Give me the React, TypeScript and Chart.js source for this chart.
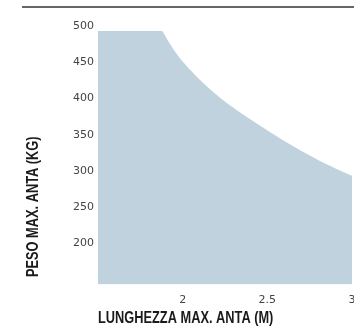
import { useEffect, useRef } from 'react';
import { Chart, registerables } from 'chart.js';

Chart.register(...registerables);

// Door leaf length (m) vs max leaf weight (kg); the corner point is repeated so the curve leaves it sharply
const lengths = [1.5, 1.88, 1.88, 1.92, 1.96, 2.0, 2.05, 2.1, 2.2, 2.3, 2.4, 2.6, 2.8, 3.0];
const weights = [500, 500, 500, 484, 470, 458, 445, 433, 412, 394, 378, 348, 322, 300];
const xTickLabels = ['2', '2.5', '3'];
const yTickLabels = ['200', '250', '300', '350', '400', '450', '500'];
const xTitle = 'LUNGHEZZA MAX. ANTA (M)';
const yTitle = 'PESO MAX. ANTA (KG)';

const fillColor = '#c0d2de';
const titleFont = 'bold 16px "Liberation Sans", Arial, sans-serif';
const condense = 0.8;

const titlesPlugin = {
  id: 'titlesPlugin',
  afterDraw(chart: any) {
    const { ctx, chartArea } = chart;
    ctx.save();
    ctx.font = titleFont;
    ctx.fillStyle = '#1a1a1a';
    ctx.textAlign = 'left';
    ctx.textBaseline = 'middle';
    ctx.save();
    ctx.translate(chartArea.left, chartArea.bottom + 34.5);
    ctx.scale(condense, 1);
    ctx.fillText(xTitle, 0, 0);
    ctx.restore();
    ctx.save();
    ctx.translate(33.5, chartArea.bottom - 7.5);
    ctx.rotate(-Math.PI / 2);
    ctx.scale(condense, 1);
    ctx.fillText(yTitle, 0, 0);
    ctx.restore();
    ctx.restore();
  },
};

export default function App() {
  const ref = useRef<HTMLCanvasElement | null>(null);

  useEffect(() => {
    if (!ref.current) return;
    const tickFont = { family: '"DejaVu Sans", sans-serif', size: 11 };
    const chart = new Chart(ref.current, {
      type: 'line',
      data: {
        datasets: [
          {
            data: lengths.map((x, i) => ({ x, y: weights[i] })),
            fill: 'start',
            backgroundColor: fillColor,
            borderWidth: 0,
            borderColor: 'rgba(0,0,0,0)',
            pointRadius: 0,
            tension: 0.4,
          },
        ],
      },
      options: {
        responsive: false,
        animation: false,
        devicePixelRatio: 1,
        layout: { padding: { top: 31, right: 18, left: 0, bottom: 0 } },
        plugins: { legend: { display: false }, tooltip: { enabled: false } },
        scales: {
          x: {
            type: 'linear',
            min: 1.5,
            max: 3,
            grid: { display: false, drawTicks: false },
            border: { display: false },
            ticks: {
              stepSize: 0.5,
              padding: 9,
              font: tickFont,
              color: '#444',
              maxRotation: 0,
              autoSkip: false,
              callback: (v: any) => (xTickLabels.includes(String(v)) ? String(v) : ''),
            },
            afterFit: (s: any) => {
              s.height = 42.5;
            },
          },
          y: {
            min: 150,
            max: 500,
            grid: { display: false, drawTicks: false },
            border: { display: false },
            ticks: {
              stepSize: 50,
              padding: 4,
              labelOffset: -5,
              font: tickFont,
              color: '#444',
              autoSkip: false,
              callback: (v: any) => (yTickLabels.includes(String(v)) ? String(v) : ''),
            },
            afterFit: (s: any) => {
              s.width = 98;
            },
          },
        },
      },
      plugins: [titlesPlugin],
    } as any);
    return () => chart.destroy();
  }, []);

  return (
    <div style={{ position: 'fixed', top: 0, left: 0, width: 354, height: 327, overflow: 'hidden', background: '#fff' }}>
      <div style={{ position: 'absolute', top: 6, left: 22, right: 0, height: 1.5, background: '#666' }} />
      <canvas ref={ref} width={370} height={327} style={{ position: 'absolute', top: 0, left: 0, display: 'block' }} />
    </div>
  );
}
